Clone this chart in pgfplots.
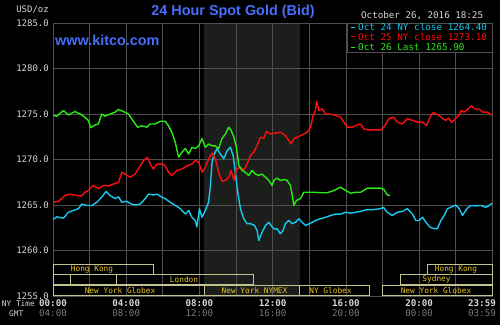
\documentclass[border=0pt]{standalone}
\usepackage{fontspec}
\setmainfont{Liberation Sans}
\newfontfamily\mono{DejaVu Sans Mono}
\usepackage{pgfplots}
\pgfplotsset{compat=1.18}
\usepackage{pgfplotstable}

\definecolor{comexbg}{RGB}{27,30,27}
\definecolor{gridc}{RGB}{80,80,80}
\definecolor{cblue}{RGB}{20,200,240}
\definecolor{cred}{RGB}{255,12,12}
\definecolor{cgreen}{RGB}{40,235,20}
\definecolor{titleblue}{RGB}{70,110,250}
\definecolor{txt}{RGB}{215,215,215}
\definecolor{gmt}{RGB}{120,120,120}
\definecolor{sess}{RGB}{230,195,30}
\definecolor{sessbox}{RGB}{195,195,145}

\pgfplotstableread{
h p
0 1263.4
0.2 1263.7
0.57 1263.55
0.84 1264.2
1.11 1264.4
1.39 1264.6
1.57 1265.1
1.84 1264.95
2.12 1264.95
2.39 1265.3
2.66 1265.85
2.9 1266.5
3.12 1266.05
3.39 1265.7
3.58 1265.9
3.76 1265.3
4.03 1265.4
4.3 1265.1
4.49 1265.0
4.76 1265.1
5.04 1265.7
5.22 1266.2
5.49 1266.1
5.68 1266.2
5.95 1265.85
6.13 1265.7
6.4 1265.3
6.68 1264.95
6.95 1264.6
7.23 1264.0
7.41 1264.4
7.59 1263.65
7.77 1263.3
7.86 1262.6
8.0 1264.6
8.14 1263.65
8.32 1264.4
8.5 1265.3
8.6 1267.15
8.69 1269.7
8.78 1270.45
8.96 1271.2
9.14 1270.6
9.33 1270.1
9.51 1270.95
9.69 1271.35
9.84 1270.45
9.96 1268.6
10.09 1266.4
10.24 1264.6
10.42 1263.5
10.6 1262.95
10.79 1262.95
11.01 1262.75
11.15 1262.2
11.24 1261.1
11.42 1262.0
11.61 1262.75
11.79 1263.1
11.97 1262.6
12.15 1262.3
12.24 1262.4
12.42 1261.85
12.57 1262.2
12.69 1262.95
12.88 1263.3
13.07 1262.95
13.25 1263.1
13.43 1263.5
13.61 1263.1
13.8 1262.75
14.07 1263.0
14.34 1263.3
14.62 1263.5
14.89 1263.65
15.17 1263.85
15.44 1264.0
15.71 1264.0
15.99 1264.2
16.26 1264.1
16.53 1264.2
16.81 1264.3
17.17 1264.5
17.54 1264.5
17.9 1264.6
18.06 1264.75
18.17 1264.4
18.26 1264.2
18.53 1263.85
18.81 1264.2
19.09 1264.3
19.36 1264.6
19.64 1264.0
19.82 1263.3
20.0 1263.3
20.19 1263.65
20.37 1263.1
20.61 1262.55
20.82 1262.4
21.0 1262.4
21.19 1263.3
21.37 1263.85
21.55 1264.6
21.73 1264.75
22.0 1265.0
22.19 1264.6
22.37 1263.85
22.61 1264.6
22.83 1264.95
23.1 1264.9
23.38 1264.95
23.65 1264.75
23.83 1264.95
23.98 1265.2
}\bluedata

\pgfplotstableread{
h p
0 1265.3
0.3 1265.4
0.66 1266.05
0.93 1266.2
1.3 1266.05
1.57 1266.0
1.75 1266.4
1.93 1266.6
2.2 1267.15
2.48 1266.8
2.76 1267.15
3.03 1267.1
3.3 1267.3
3.58 1267.5
3.76 1268.6
3.94 1268.4
4.2 1268.05
4.49 1268.4
4.76 1269.3
4.95 1269.9
5.16 1270.25
5.31 1269.5
5.49 1268.95
5.68 1269.5
5.95 1269.5
6.13 1269.3
6.31 1268.6
6.49 1268.25
6.77 1268.8
7.04 1268.95
7.32 1269.3
7.59 1269.5
7.77 1269.9
7.96 1269.7
8.14 1268.6
8.32 1269.15
8.5 1270.05
8.69 1270.7
8.87 1270.05
9.05 1268.6
9.23 1267.6
9.42 1267.7
9.6 1268.05
9.73 1268.8
9.88 1267.7
10.02 1268.95
10.24 1269.15
10.42 1268.8
10.6 1269.5
10.79 1270.45
10.97 1270.8
11.15 1271.55
11.33 1272.45
11.51 1272.3
11.66 1273.1
11.88 1272.8
12.15 1272.9
12.42 1273.0
12.69 1272.65
12.88 1272.1
13.0 1271.7
13.16 1272.3
13.34 1272.45
13.61 1272.7
13.89 1273.0
14.07 1273.55
14.21 1274.85
14.34 1275.4
14.4 1276.4
14.53 1275.4
14.71 1275.55
14.89 1275.0
15.17 1275.0
15.44 1274.85
15.71 1274.65
15.89 1274.1
16.08 1273.55
16.35 1273.55
16.62 1273.8
16.81 1273.9
16.99 1273.35
17.26 1273.25
17.54 1273.25
17.9 1273.25
18.08 1273.55
18.36 1274.5
18.63 1274.65
18.81 1274.1
19.09 1273.9
19.36 1274.5
19.64 1274.3
19.91 1274.1
20.19 1274.1
20.42 1273.75
20.64 1274.85
20.79 1275.2
20.91 1275.0
21.09 1274.85
21.28 1274.5
21.46 1274.3
21.61 1274.55
21.77 1274.1
22.0 1274.5
22.19 1274.9
22.31 1275.4
22.46 1275.2
22.68 1275.55
22.86 1275.9
23.04 1275.55
23.28 1275.55
23.47 1275.2
23.74 1275.2
23.98 1274.9
}\reddata

\pgfplotstableread{
h p
0 1274.84
0.2 1274.76
0.57 1275.38
0.84 1274.9
1.2 1275.27
1.48 1275.0
1.75 1274.65
1.93 1274.3
2.06 1273.5
2.3 1273.8
2.48 1273.9
2.66 1275.0
2.85 1274.76
3.12 1275.0
3.39 1275.2
3.58 1275.5
3.85 1275.27
4.12 1275.0
4.36 1274.3
4.62 1273.55
4.85 1273.7
5.13 1273.55
5.31 1273.9
5.58 1273.9
5.86 1274.2
6.13 1274.2
6.31 1273.7
6.49 1273.0
6.68 1271.9
6.86 1270.25
7.04 1270.8
7.23 1271.2
7.41 1270.6
7.59 1271.35
7.77 1271.2
7.96 1271.5
8.14 1272.3
8.32 1271.35
8.5 1271.7
8.69 1271.5
8.87 1271.5
9.05 1271.2
9.23 1272.3
9.42 1272.8
9.6 1273.55
9.73 1273.2
9.88 1272.45
10.02 1271.35
10.15 1269.35
10.33 1268.8
10.51 1268.6
10.69 1268.25
10.88 1268.8
11.06 1268.4
11.24 1268.25
11.42 1268.4
11.61 1268.05
11.79 1267.7
11.97 1267.15
12.06 1267.7
12.24 1267.95
12.42 1267.7
12.61 1267.8
12.79 1267.7
12.97 1267.15
13.07 1266.05
13.16 1264.95
13.3 1265.5
13.52 1265.7
13.7 1266.4
13.98 1266.4
14.25 1266.4
14.62 1266.35
14.99 1266.35
15.35 1266.6
15.71 1266.95
15.99 1266.6
16.26 1266.3
16.53 1266.4
16.81 1266.4
17.17 1266.85
17.54 1266.85
17.9 1266.85
18.08 1266.7
18.17 1266.4
18.26 1266.1
18.41 1266.05
}\greendata

\begin{document}
\begin{tikzpicture}[x=1pt,y=1pt]
\fill[black] (0,0) rectangle (500,325);
\fill[comexbg] (204,29) rectangle (300,302);
\begin{axis}[
  at={(53pt,29pt)}, anchor=south west,
  scale only axis, width=439pt, height=273pt,
  xmin=0, xmax=23.983, ymin=1255, ymax=1285,
  grid=major,
  major grid style={color=gridc, line width=0.7pt},
  axis line style={color=gridc, line width=0.7pt},
  major tick length=0pt,
  xtick={0,2,4,6,8,10,12,14,16,18,20,22},
  xticklabels={
    {\textbf{00:00}\\\textcolor{gmt}{04:00}},{},
    {\textbf{04:00}\\\textcolor{gmt}{08:00}},{},
    {\textbf{08:00}\\\textcolor{gmt}{12:00}},{},
    {\textbf{12:00}\\\textcolor{gmt}{16:00}},{},
    {\textbf{16:00}\\\textcolor{gmt}{20:00}},{},
    {\textbf{20:00}\\\textcolor{gmt}{00:00}},{}},
  extra x ticks={23.983},
  extra x tick labels={{\textbf{23:59}\\\textcolor{gmt}{03:59}}},
  extra x tick style={xticklabel style={xshift=-10pt}},
  xticklabel style={anchor=north, inner sep=0pt, yshift=-3.5pt, align=center,
    text=txt, font=\mono\fontsize{9.2}{10}\selectfont},
  ytick={1255,1260,1265,1270,1275,1280,1285},
  yticklabels={1255.0,1260.0,1265.0,1270.0,1275.0,1280.0,1285.0},
  yticklabel style={anchor=east, inner sep=0pt, xshift=-4pt,
    text=txt, font=\mono\fontsize{9}{10}\selectfont},
  clip=true,
]
\addplot[cblue, line width=1.4pt, line join=round, mark=none] table[x=h,y=p] {\bluedata};
\addplot[cred, line width=1.4pt, line join=round, mark=none] table[x=h,y=p] {\reddata};
\addplot[cgreen, line width=1.4pt, line join=round, mark=none] table[x=h,y=p] {\greendata};
\end{axis}

% session boxes
\begin{scope}[draw=sessbox, line width=0.9pt]
\draw (53,51) rectangle (153.3,61);
\draw (427,51) rectangle (492,61);
\draw (53,40.5) rectangle (70.7,50.5);
\draw (70.7,40.5) rectangle (116.7,50.5);
\draw (116.7,40.5) rectangle (253,50.5);
\draw (400,40.5) rectangle (492,50.5);
\draw (53,29.5) rectangle (204,39.5);
\draw (204,29.5) rectangle (299.3,39.5);
\draw (299.3,29.5) rectangle (369.3,39.5);
\draw (382.7,29.5) rectangle (492,39.5);
\end{scope}
\begin{scope}[every node/.style={text=sess, inner sep=0pt, font=\mono\fontsize{7.8}{8}\selectfont}]
\node at (92,56) {Hong Kong};
\node at (184,45.5) {London};
\node at (120,34.5) {New York Globex};
\node at (254.5,34.5) {New York NYMEX};
\node at (330.5,34.5) {NY Globex};
\node at (436,34.5) {New York Globex};
\node at (436.5,45.5) {Sydney};
\node at (456,56) {Hong Kong};
\end{scope}

% axis side texts
\node[anchor=east, inner sep=0pt, text=txt, font=\mono\fontsize{9}{10}\selectfont] at (49,315) {USD/oz};
\node[anchor=east, inner sep=0pt, text=txt, font=\mono\fontsize{7.8}{8}\selectfont] at (35,21) {NY Time};
\node[anchor=west, inner sep=0pt, text=txt, font=\mono\fontsize{7.8}{8}\selectfont] at (9,11) {GMT};

% titles
\node[text=titleblue, inner sep=0pt, font=\bfseries\fontsize{14.4}{15}\selectfont] at (233,313) {24 Hour Spot Gold (Bid)};
\node[text=titleblue, inner sep=0pt, anchor=west, font=\bfseries\fontsize{14.4}{15}\selectfont] at (55,285) {www.kitco.com};
\node[text=txt, inner sep=0pt, anchor=west, font=\mono\fontsize{9.2}{10}\selectfont] at (361,309) {October 26, 2016 18:25};

% legend
\fill[black, draw=gridc, line width=0.7pt] (347,273) rectangle (492,302);
\begin{scope}[every node/.style={inner sep=0pt, anchor=west, font=\mono\fontsize{9.3}{10}\selectfont}]
\draw[cblue, line width=1.3pt] (351,297.7) -- (355,297.7);
\node[text=cblue] at (358,297.7) {Oct 24 NY close 1264.40};
\draw[cred, line width=1.3pt] (351,288.3) -- (355,288.3);
\node[text=cred] at (358,288.3) {Oct 25 NY close 1273.10};
\draw[cgreen, line width=1.3pt] (351,277.7) -- (355,277.7);
\node[text=cgreen] at (358,277.7) {Oct 26 Last 1265.90};
\end{scope}
\pgfresetboundingbox
\useasboundingbox (0,0) rectangle (500,325);
\end{tikzpicture}
\end{document}
